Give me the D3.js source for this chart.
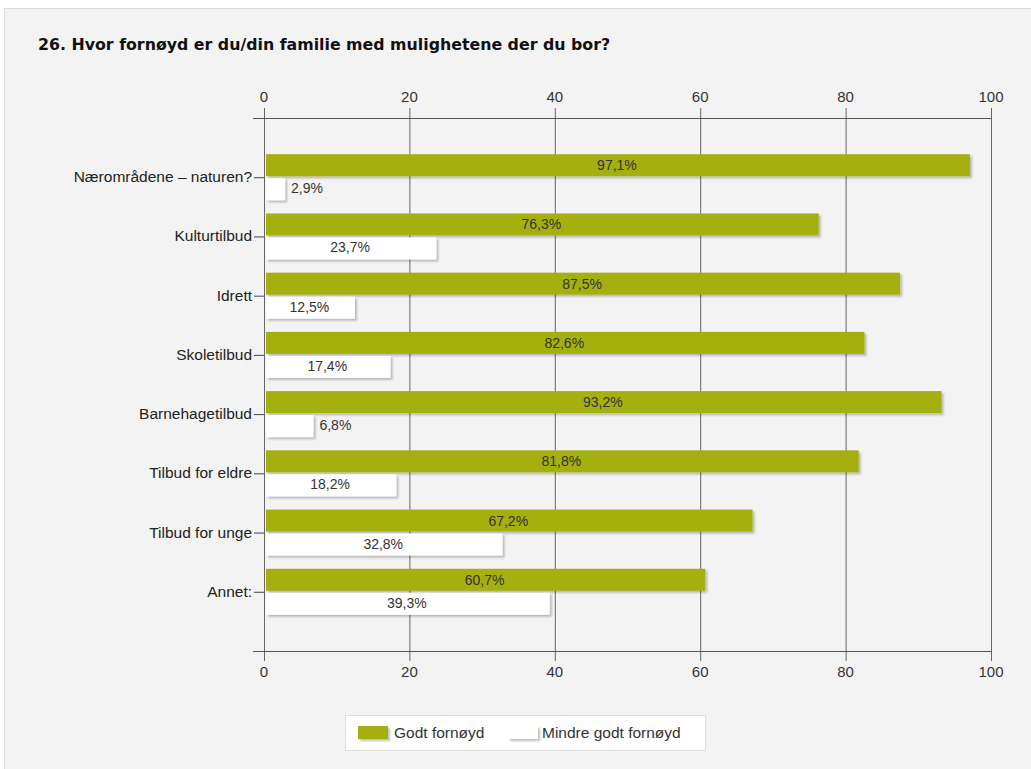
<!DOCTYPE html>
<html><head><meta charset="utf-8">
<script src="https://cdn.jsdelivr.net/npm/d3@7"></script>
<style>
html,body{margin:0;padding:0;background:#fff;}
svg{display:block;}
</style></head>
<body>
<script>
const categories = ["Nærområdene – naturen?","Kulturtilbud","Idrett","Skoletilbud","Barnehagetilbud","Tilbud for eldre","Tilbud for unge","Annet:"];
const godt = [97.1,76.3,87.5,82.6,93.2,81.8,67.2,60.7];
const mindre = [2.9,23.7,12.5,17.4,6.8,18.2,32.8,39.3];
const seriesNames = ["Godt fornøyd","Mindre godt fornøyd"];
const xTicks = [0,20,40,60,80,100];
const title = "26. Hvor fornøyd er du/din familie med mulighetene der du bor?";

(function(){
const W=1031,H=769;
const svg=d3.select("body").append("svg").attr("width",W).attr("height",H);
svg.append("rect").attr("x",0).attr("y",0).attr("width",W).attr("height",H).attr("fill","#fff");
svg.append("rect").attr("x",4.5).attr("y",8.5).attr("width",W).attr("height",H).attr("fill","#f3f3f3").attr("stroke","#dcdcdc");

svg.append("text").attr("x",38).attr("y",50).text(title)
  .attr("font-family","DejaVu Sans, Verdana, sans-serif").attr("font-weight","bold").attr("font-size",15.8).attr("fill","#111");

const x=d3.scaleLinear().domain([0,100]).range([264,991]);
const y=d3.scalePoint().domain(categories).range([118,651]).padding(1);
const yTop=118,yBot=651;
const green="#a4b00d";
const font="Liberation Sans, Arial, sans-serif";

const defs=svg.append("defs");
const f=defs.append("filter").attr("id","sh").attr("x","-5%").attr("y","-20%").attr("width","120%").attr("height","160%");
f.append("feOffset").attr("in","SourceAlpha").attr("dx",1.5).attr("dy",1.5).attr("result","o");
f.append("feGaussianBlur").attr("in","o").attr("stdDeviation",0.8).attr("result","b");
f.append("feComponentTransfer").attr("in","b").attr("result","c").append("feFuncA").attr("type","linear").attr("slope",0.25);
const m=f.append("feMerge"); m.append("feMergeNode").attr("in","c"); m.append("feMergeNode").attr("in","SourceGraphic");

svg.append("g").selectAll("line").data(xTicks).join("line")
  .attr("x1",d=>x(d)+0.5).attr("x2",d=>x(d)+0.5).attr("y1",yTop-10).attr("y2",yBot+10)
  .attr("stroke","#666").attr("stroke-width",1);
[yTop,yBot].forEach(v=>svg.append("line").attr("x1",253).attr("x2",x(100)+0.5).attr("y1",v+0.5).attr("y2",v+0.5).attr("stroke","#555"));
const tl=svg.append("g").attr("font-family",font).attr("font-size",15).attr("fill","#333").attr("text-anchor","middle");
xTicks.forEach(d=>{
  tl.append("text").attr("x",x(d)).attr("y",102).text(d);
  tl.append("text").attr("x",x(d)).attr("y",677).text(d);
});
const cg=svg.append("g").attr("font-family",font).attr("font-size",15.5).attr("fill","#222");
categories.forEach(c=>{
  cg.append("text").attr("x",252).attr("y",y(c)+5).attr("text-anchor","end").text(c);
  cg.append("line").attr("x1",254).attr("x2",264).attr("y1",y(c)+0.5).attr("y2",y(c)+0.5).attr("stroke","#444");
});

const bh=22;
const bars=svg.append("g");
categories.forEach((c,i)=>{
  const yc=y(c);
  bars.append("rect").attr("x",x(0)+2).attr("y",yc-bh-1).attr("width",x(godt[i])-x(0)-2).attr("height",bh).attr("fill",green).attr("filter","url(#sh)");
  bars.append("rect").attr("x",x(0)+2).attr("y",yc+1).attr("width",x(mindre[i])-x(0)-2).attr("height",bh).attr("fill","#fff").attr("filter","url(#sh)");
});
const lb=svg.append("g").attr("font-family",font).attr("font-size",14).attr("fill","#333");
const fmt=v=>v.toFixed(1).replace(".",",")+"%";
categories.forEach((c,i)=>{
  const yc=y(c);
  lb.append("text").attr("x",(x(0)+x(godt[i]))/2).attr("y",yc-bh/2+4).attr("text-anchor","middle").text(fmt(godt[i]));
  const w=x(mindre[i])-x(0);
  if(w<60){
    lb.append("text").attr("x",x(mindre[i])+6).attr("y",yc+bh/2+5).attr("text-anchor","start").text(fmt(mindre[i]));
  } else {
    lb.append("text").attr("x",(x(0)+x(mindre[i]))/2).attr("y",yc+bh/2+5).attr("text-anchor","middle").text(fmt(mindre[i]));
  }
});

const lg=svg.append("g");
lg.append("rect").attr("x",345.5).attr("y",715.5).attr("width",360).attr("height",35).attr("fill","#fff").attr("stroke","#ddd");
lg.append("rect").attr("x",358).attr("y",726).attr("width",30).attr("height",13).attr("fill",green).attr("filter","url(#sh)");
lg.append("rect").attr("x",508).attr("y",726).attr("width",30).attr("height",13).attr("fill","#fff").attr("filter","url(#sh)");
lg.append("text").attr("x",394).attr("y",738).attr("font-family",font).attr("font-size",15.5).attr("fill","#333").text(seriesNames[0]);
lg.append("text").attr("x",542).attr("y",738).attr("font-family",font).attr("font-size",15.5).attr("fill","#333").text(seriesNames[1]);
})();
</script>
</body></html>
